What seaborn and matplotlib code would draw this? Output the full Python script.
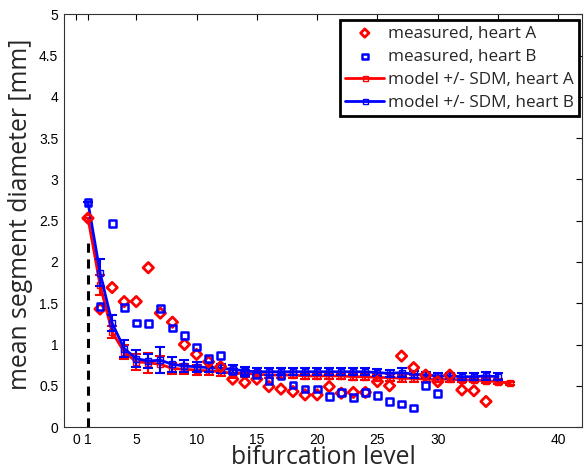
import numpy as np
import pandas as pd
import matplotlib
matplotlib.use("Agg")
import matplotlib.pyplot as plt
import seaborn as sns

# measured segment diameters per bifurcation level
levels_meas_a = list(range(1, 35))
meas_a = [2.53, 1.43, 1.69, 1.52, 1.52, 1.93, 1.38, 1.27, 1.00, 0.88, 0.79, 0.73,
          0.58, 0.54, 0.58, 0.49, 0.46, 0.43, 0.39, 0.39, 0.49, 0.41, 0.42, 0.42,
          0.55, 0.50, 0.86, 0.72, 0.63, 0.55, 0.63, 0.45, 0.44, 0.31]

levels_meas_b = list(range(1, 31))
meas_b = [2.72, 1.46, 2.47, 1.45, 1.26, 1.25, 1.44, 1.20, 1.11, 0.97, 0.83, 0.87,
          0.68, 0.66, 0.63, 0.56, 0.62, 0.51, 0.46, 0.46, 0.37, 0.42, 0.36, 0.42,
          0.38, 0.31, 0.28, 0.23, 0.50, 0.41]

# model +/- SDM
levels_model_a = list(range(1, 37))
model_a = [2.53, 1.72, 1.15, 0.91, 0.79, 0.78, 0.76, 0.71, 0.70, 0.69, 0.68, 0.67,
           0.65, 0.65, 0.64, 0.63, 0.63, 0.63, 0.62, 0.62, 0.62, 0.62, 0.61, 0.61,
           0.60, 0.60, 0.59, 0.59, 0.58, 0.58, 0.58, 0.57, 0.57, 0.56, 0.55, 0.53]
sdm_a = [0.0, 0.12, 0.07, 0.08, 0.10, 0.12, 0.10, 0.07, 0.06, 0.06, 0.05, 0.05,
         0.05, 0.04, 0.04, 0.04, 0.04, 0.04, 0.04, 0.04, 0.04, 0.04, 0.04, 0.04,
         0.04, 0.04, 0.04, 0.04, 0.03, 0.03, 0.03, 0.03, 0.03, 0.03, 0.03, 0.02]

levels_model_b = list(range(1, 36))
model_b = [2.72, 1.87, 1.26, 0.95, 0.83, 0.80, 0.81, 0.76, 0.74, 0.73, 0.72, 0.71,
           0.70, 0.68, 0.67, 0.67, 0.67, 0.67, 0.67, 0.67, 0.67, 0.67, 0.67, 0.67,
           0.66, 0.65, 0.66, 0.64, 0.63, 0.62, 0.62, 0.61, 0.61, 0.62, 0.61]
sdm_b = [0.0, 0.16, 0.10, 0.10, 0.10, 0.08, 0.16, 0.09, 0.07, 0.06, 0.05, 0.05,
         0.05, 0.05, 0.04, 0.04, 0.04, 0.04, 0.04, 0.04, 0.04, 0.04, 0.04, 0.04,
         0.04, 0.04, 0.05, 0.04, 0.04, 0.04, 0.04, 0.04, 0.04, 0.05, 0.04]

x_ticks = [0, 1, 5, 10, 15, 20, 25, 30, 35, 40]
x_tick_labels = ["0", "1", "5", "10", "15", "20", "25", "30", "", "40"]
y_ticks = [0, 0.5, 1, 1.5, 2, 2.5, 3, 3.5, 4, 4.5, 5]
y_tick_labels = ["0", "0.5", "1", "1.5", "2", "2.5", "3", "3.5", "4", "4.5", "5"]

sns.set_style("white")
plt.rcParams["font.family"] = ["Liberation Sans", "DejaVu Sans"]

fig = plt.figure(figsize=(5.86, 4.74), dpi=100)
ax = fig.add_axes([0.109, 0.099, 0.885, 0.871])

red = "#ff0000"
blue = "#0000ff"

# dashed marker at level 1
ax.plot([1, 1], [0, 2.25], color="black", lw=2.2, ls=(0, (3, 2.2)), zorder=1)

# model curves with error bars
ax.errorbar(levels_model_a, model_a, yerr=sdm_a, fmt="none", ecolor=red,
            elinewidth=1.5, capsize=3.5, capthick=1.5, zorder=2)
sns.lineplot(x=levels_model_a, y=model_a, ax=ax, color=red, lw=2, marker="s",
             markersize=4.5, markerfacecolor="none", markeredgecolor=red,
             markeredgewidth=1.0, label="model +/- SDM, heart A", zorder=3)
ax.errorbar(levels_model_b, model_b, yerr=sdm_b, fmt="none", ecolor=blue,
            elinewidth=1.5, capsize=3.5, capthick=1.5, zorder=4)
sns.lineplot(x=levels_model_b, y=model_b, ax=ax, color=blue, lw=2, marker="s",
             markersize=4.5, markerfacecolor="none", markeredgecolor=blue,
             markeredgewidth=1.0, label="model +/- SDM, heart B", zorder=5)

# measured points
sns.scatterplot(x=levels_meas_a, y=meas_a, ax=ax, marker="D", s=28,
                facecolor="none", edgecolor=red, linewidth=2.0,
                label="measured, heart A", zorder=6)
sns.scatterplot(x=levels_meas_b, y=meas_b, ax=ax, marker="s", s=24,
                facecolor="none", edgecolor=blue, linewidth=1.8,
                label="measured, heart B", zorder=7)

ax.set_xlim(-1, 42)
ax.set_ylim(0, 5)
ax.set_xticks(x_ticks)
ax.set_xticklabels(x_tick_labels, fontsize=10)
ax.set_yticks(y_ticks)
ax.set_yticklabels(y_tick_labels, fontsize=10)
ax.tick_params(direction="in", length=4, width=0.8, top=True, right=True,
               colors="black", pad=4)
for sp in ax.spines.values():
    sp.set_color("#333333")
    sp.set_linewidth(0.8)

label_font = ["Open Sans", "DejaVu Sans"]
ax.set_xlabel("bifurcation level", fontsize=17.8, family=label_font, labelpad=-1)
ax.set_ylabel("mean segment diameter [mm]", fontsize=17.8, family=label_font)
ax.yaxis.set_label_coords(-0.06, 0.515)

handles, labels = ax.get_legend_handles_labels()
order = [labels.index(l) for l in ["measured, heart A", "measured, heart B",
                                   "model +/- SDM, heart A", "model +/- SDM, heart B"]]
leg = ax.legend([handles[i] for i in order], [labels[i] for i in order],
                loc="upper right", bbox_to_anchor=(0.993, 0.985),
                prop={"family": label_font, "size": 12.3}, frameon=True,
                fancybox=False, framealpha=1, borderpad=0.3, labelspacing=0.42,
                handlelength=2.3, handletextpad=0.2, borderaxespad=0,
                markerscale=0.8)
leg.get_frame().set_edgecolor("black")
leg.get_frame().set_linewidth(2)

fig.savefig("out.png", dpi=100)
